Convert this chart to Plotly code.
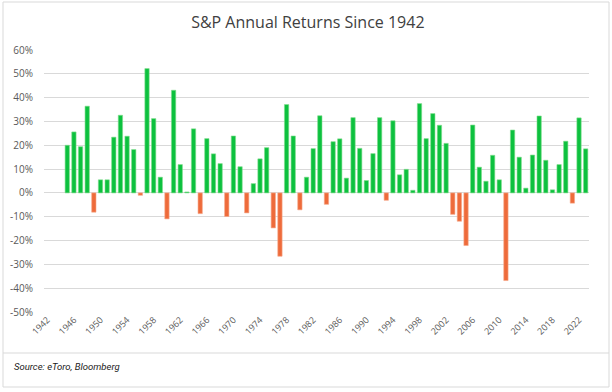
import plotly.graph_objects as go

years = [str(y) for y in range(1942, 2024)]
returns = [None, None, None,
    20.0, 25.6, 19.4, 36.4, -8.1, 5.5, 5.5, 23.4, 32.6, 23.8, 18.2, -1.0, 52.2, 31.2, 6.6, -10.9,
    43.1, 11.9, 0.4, 26.9, -8.7, 22.8, 16.4, 12.3, -9.9, 23.9, 11.0, -8.4, 3.9, 14.3, 19.0,
    -14.7, -26.6, 37.1, 23.9, -7.1, 6.6, 18.6, 32.4, -4.8, 21.5, 22.7, 6.2, 31.6, 18.7, 5.2,
    16.5, 31.6, -3.1, 30.3, 7.6, 9.9, 1.1, 37.5, 22.8, 33.3, 28.4, 20.8, -9.0, -11.9, -22.1,
    28.5, 10.8, 4.9, 15.8, 5.5, -36.8, 26.4, 15.0, 2.0, 15.9, 32.3, 13.7, 1.3, 11.9, 21.7,
    -4.3, 31.5, 18.5]
tick_years = [str(y) for y in range(1942, 2024, 4)]
y_ticks = list(range(-50, 61, 10))

GREEN = "#0DC13F"
GREEN_EDGE = "#7FDD8C"
ORANGE = "#EE6B3B"
ORANGE_EDGE = "#F6A889"

colors = [(GREEN if (v is not None and v >= 0) else ORANGE) for v in returns]
edges = [(GREEN_EDGE if (v is not None and v >= 0) else ORANGE_EDGE) for v in returns]

fig = go.Figure(go.Bar(
    x=years, y=returns,
    marker=dict(color=colors, line=dict(color=edges, width=0.6)),
    hoverinfo="x+y",
))

W, H = 612, 392
L, R, T, B = 44, 23, 50, 80
pw, ph = W - L - R, H - T - B

def px(x):
    return (x - L) / pw

def py(y):
    return (H - B - y) / ph

fig.update_layout(
    width=W, height=H,
    margin=dict(l=L, r=R, t=T, b=B, autoexpand=False),
    paper_bgcolor="white", plot_bgcolor="white",
    bargap=0.35,
    showlegend=False,
    title=dict(text="S&P Annual Returns Since 1942", x=0.503, xanchor="center",
               y=1 - 22 / H, yanchor="middle",
               font=dict(family="Open Sans, sans-serif", size=16, color="#404040")),
    font=dict(family="Open Sans, sans-serif", color="#595959"),
    xaxis=dict(type="category", tickmode="array", tickvals=tick_years, ticktext=tick_years,
               tickangle=-45, tickfont=dict(size=9, color="#595959"), showgrid=False,
               showline=False, ticks="", zeroline=False, automargin=False),
    yaxis=dict(range=[-50, 60], tickvals=y_ticks, ticktext=[f"{v}%" for v in y_ticks],
               tickfont=dict(size=10, color="#595959"), showgrid=True, gridcolor="#D9D9D9",
               gridwidth=1, zeroline=False, showline=False, ticks="", ticklabelstandoff=10,
               automargin=False),
    shapes=[
        dict(type="rect", xref="paper", yref="paper", x0=px(3), x1=px(609), y0=py(387), y1=py(2),
             line=dict(color="#D9D9D9", width=1), layer="below"),
        dict(type="line", xref="paper", yref="paper", x0=px(3), x1=px(609), y0=py(353), y1=py(353),
             line=dict(color="#D9D9D9", width=1)),
    ],
    annotations=[
        dict(text="<i>Source: eToro, Bloomberg</i>", xref="paper", yref="paper",
             x=px(12), y=py(366), xanchor="left", yanchor="middle", showarrow=False,
             font=dict(family="Roboto, sans-serif", size=9.5, color="#1a1a1a")),
    ],
)

fig.write_html("out.html", config={"displayModeBar": False},
               post_script="document.body.style.margin='0';document.body.style.padding='0';")
